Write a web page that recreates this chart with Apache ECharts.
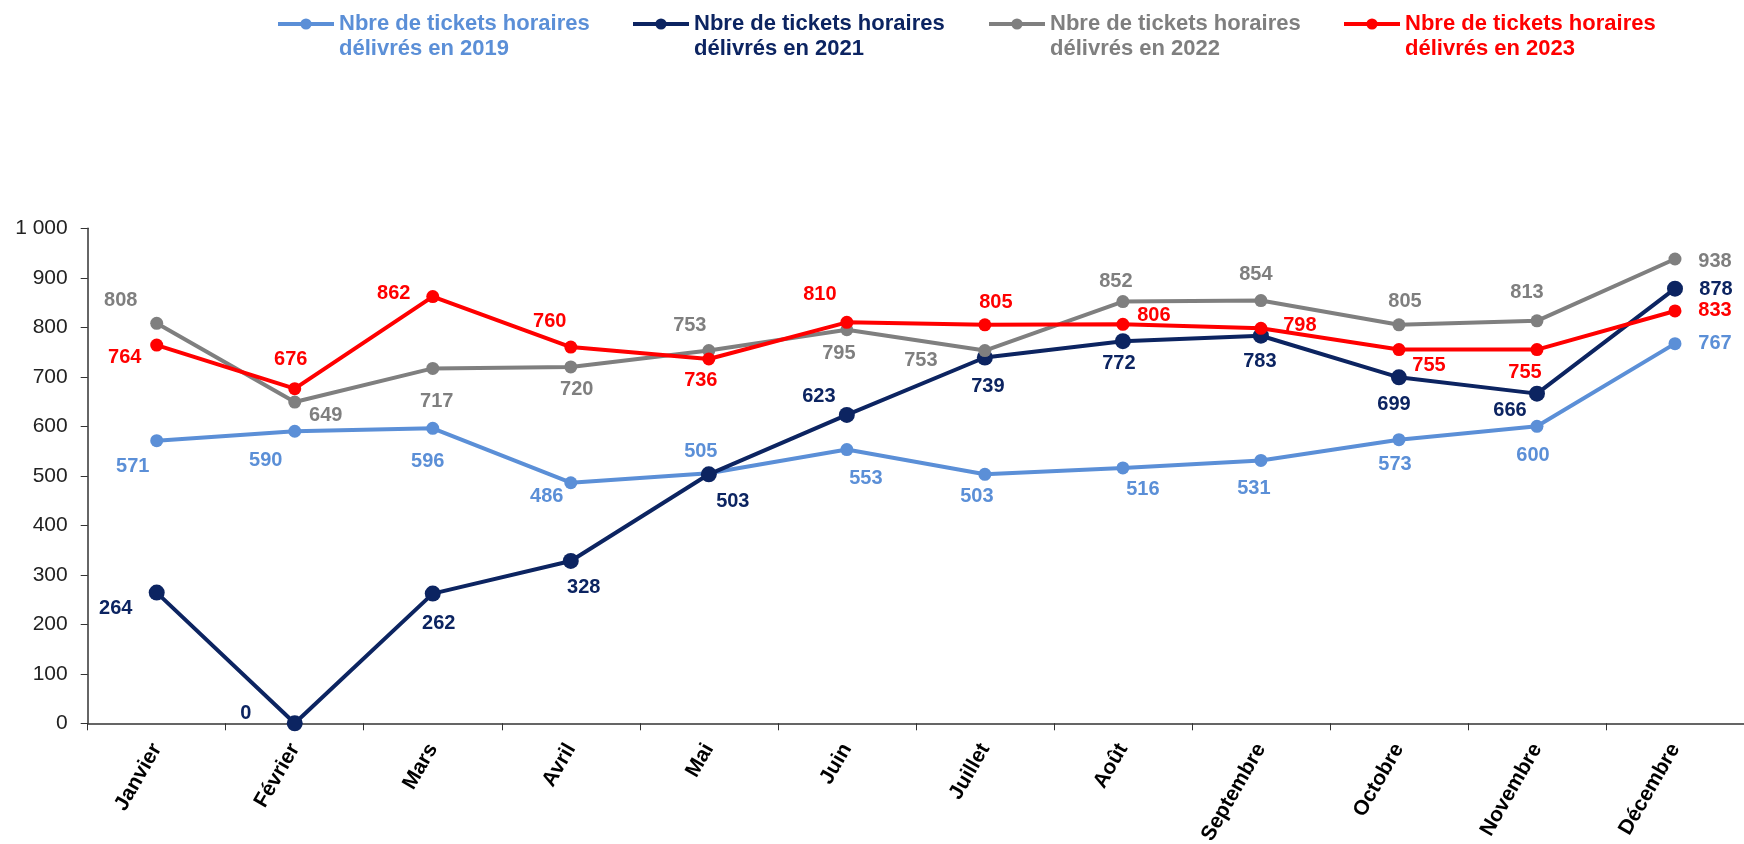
<!DOCTYPE html>
<html><head><meta charset="utf-8">
<script src="https://cdn.jsdelivr.net/npm/echarts@6/dist/echarts.min.js"></script>
<style>html,body{margin:0;padding:0;background:#fff}#c{width:1744px;height:844px}</style>
</head><body><div id="c"></div>
<script>
const months = ['Janvier','Février','Mars','Avril','Mai','Juin','Juillet','Août','Septembre','Octobre','Novembre','Décembre'];
const names = ['Nbre de tickets horaires\ndélivrés en 2019','Nbre de tickets horaires\ndélivrés en 2021','Nbre de tickets horaires\ndélivrés en 2022','Nbre de tickets horaires\ndélivrés en 2023'];
const v2019 = [571, 590, 596, 486, 505, 553, 503, 516, 531, 573, 600, 767];
const v2021 = [264, 0, 262, 328, 503, 623, 739, 772, 783, 699, 666, 878];
const v2022 = [808, 649, 717, 720, 753, 795, 753, 852, 854, 805, 813, 938];
const v2023 = [764, 676, 862, 760, 736, 810, 805, 806, 798, 755, 755, 833];
const yTicks = [0, 100, 200, 300, 400, 500, 600, 700, 800, 900, 1000];

// label placement (layout only)
const off2019 = [[-24,26],[-29,29],[-5,33],[-24,14],[-8,-22],[19,29],[-8,22],[20,22],[-7,28],[-4,25],[-4,29],[40,0]];
const off2021 = [[-41,16],[-49,-10],[6,30],[13,27],[24,27],[-28,-18],[3,29],[-4,22],[-1,26],[-5,27],[-27,17],[41,1]];
const off2022 = [[-36,-23],[31,13],[4,33],[6,23],[-19,-25],[-8,24],[-64,10],[-7,-20],[-5,-26],[6,-23],[-10,-28],[40,2]];
const off2023 = [[-32,12],[-4,-29],[-39,-3],[-21,-26],[-8,22],[-27,-28],[11,-22],[31,-9],[39,-3],[30,16],[-12,23],[40,0]];

const colors = ['#5B8FD7', '#0C2461', '#7F7F7F', '#FF0000'];
const FONT = 'Liberation Sans, Arial, sans-serif';
const values = [v2019, v2021, v2022, v2023];
const offs = [off2019, off2021, off2022, off2023];
const symSizes = [13, 16, 13, 13];
const legendLeft = [276, 631, 987, 1342];

function mkSeries(i) {
  return {
    name: names[i], type: 'line', z: 2 + i,
    data: values[i].map((v, k) => ({
      value: v,
      label: { offset: offs[i][k] }
    })),
    symbol: 'circle', symbolSize: symSizes[i],
    itemStyle: { color: colors[i] },
    lineStyle: { color: colors[i], width: 4 },
    label: {
      show: true, position: 'inside', color: colors[i],
      fontFamily: FONT, fontSize: 20, fontWeight: 'bold',
      textBorderWidth: 0
    },
    emphasis: { disabled: true },
    animation: false
  };
}

const chart = echarts.init(document.getElementById('c'), null, { renderer: 'canvas' });
chart.setOption({
  backgroundColor: '#fff',
  animation: false,
  legend: names.map((n, i) => ({
    data: [{ name: n, textStyle: { color: colors[i] } }],
    left: legendLeft[i], top: -13.5, padding: 0,
    itemWidth: 56, itemHeight: 14, selectedMode: false,
    lineStyle: { width: 4 },
    formatter: nm => '\n' + nm,
    textStyle: { fontFamily: FONT, fontSize: 22, fontWeight: 'bold', lineHeight: 25 }
  })),
  grid: { left: 87.7, right: 0, top: 228.3, bottom: 120.7, containLabel: false, outerBoundsMode: 'none' },
  xAxis: {
    type: 'category', data: months, boundaryGap: true,
    axisLine: { lineStyle: { color: '#333', width: 1.5 } },
    axisTick: { show: true, length: 7, lineStyle: { color: '#333' } },
    axisLabel: { rotate: 60, margin: 22, color: '#000', fontFamily: FONT, fontSize: 21, fontWeight: 'bold', interval: 0 }
  },
  yAxis: {
    type: 'value', min: yTicks[0], max: yTicks[yTicks.length - 1], interval: 100,
    splitLine: { show: false },
    axisLine: { show: true, lineStyle: { color: '#333', width: 1.5 } },
    axisTick: { show: true, length: 7, lineStyle: { color: '#333' } },
    axisLabel: {
      margin: 20, color: '#222', fontFamily: FONT, fontSize: 21,
      formatter: v => String(v).replace(/\B(?=(\d{3})+(?!\d))/g, ' ')
    }
  },
  series: [0, 1, 2, 3].map(mkSeries)
});
</script></body></html>
